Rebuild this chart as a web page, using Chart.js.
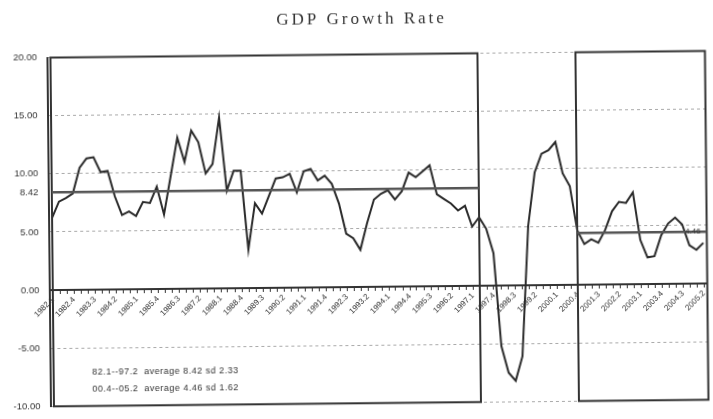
<!DOCTYPE html>
<html>
<head>
<meta charset="utf-8">
<script src="https://cdn.jsdelivr.net/npm/chart.js@4"></script>
<style>
  html, body { margin: 0; padding: 0; background: #fff; }
  #wrap { width: 713px; height: 419px; position: relative; transform: rotate(-0.58deg); }
</style>
</head>
<body>
<div id="wrap"><canvas id="gdpChart"></canvas></div>
<script>
// quarters 1982.1 .. 2005.2
const quarters = [];
for (let yr = 1982; yr <= 2005; yr++) {
  for (let q = 1; q <= 4; q++) {
    if (yr === 2005 && q > 2) break;
    quarters.push(yr + "." + q);
  }
}

const growth = [
  6.2, 7.6, 7.9, 8.3, 10.5, 11.3, 11.4, 10.1, 10.2, 8.0,
  6.4, 6.7, 6.3, 7.5, 7.4, 8.8, 6.4, 9.7, 13.0, 10.9,
  13.6, 12.6, 9.9, 10.7, 14.7, 8.4, 10.1, 10.1, 3.3, 7.3,
  6.4, 7.9, 9.4, 9.5, 9.8, 8.2, 10.0, 10.2, 9.2, 9.6,
  8.9, 7.2, 4.6, 4.2, 3.2, 5.5, 7.5, 8.0, 8.3, 7.5,
  8.2, 9.8, 9.4, 9.9, 10.4, 7.9, 7.5, 7.1, 6.5, 6.9,
  5.1, 5.9, 4.9, 2.8, -5.2, -7.5, -8.2, -6.1, 5.1, 9.7,
  11.3, 11.6, 12.3, 9.6, 8.5, 4.7, 3.5, 3.9, 3.6, 4.7,
  6.3, 7.1, 7.0, 7.9, 3.8, 2.3, 2.4, 4.2, 5.2, 5.7,
  5.1, 3.3, 2.9, 3.5
];

const yTicks = [-10, -5, 0, 5, 8.42, 10, 15, 20];

const periodStart = ["1982.1", "2000.4"];
const periodEnd = ["1997.2", "2005.2"];
const periodAvg = [8.42, 4.46];
const periodSd = [2.33, 1.62];

const titleText = "GDP Growth Rate";

const periodPlugin = {
  id: "periods",
  afterDatasetsDraw(chart) {
    const { ctx, chartArea, scales } = chart;
    const x = scales.x, y = scales.y;
    ctx.save();
    periodStart.forEach((start, i) => {
      const i0 = quarters.indexOf(start);
      const i1 = quarters.indexOf(periodEnd[i]);
      const left = x.getPixelForValue(i0);
      const right = i1 === quarters.length - 1 ? chartArea.right : x.getPixelForValue(i1);
      ctx.strokeStyle = "#333";
      ctx.lineWidth = 2;
      ctx.strokeRect(left, chartArea.top, right - left, chartArea.bottom - chartArea.top);

      const ya = y.getPixelForValue(periodAvg[i]);
      ctx.strokeStyle = "#555";
      ctx.lineWidth = 2.5;
      ctx.beginPath();
      ctx.moveTo(left, ya);
      ctx.lineTo(right, ya);
      ctx.stroke();

      // averages that are not on the axis get a label at the line end
      if (!yTicks.includes(periodAvg[i])) {
        ctx.font = '8px "Liberation Sans"';
        ctx.fillStyle = "#333";
        ctx.textAlign = "right";
        ctx.textBaseline = "middle";
        ctx.fillText(periodAvg[i].toFixed(2), right - 6, ya);
      }
    });

    // note with period stats
    ctx.font = '9px "Liberation Sans"';
    ctx.letterSpacing = "0.5px";
    ctx.fillStyle = "#333";
    ctx.textAlign = "left";
    ctx.textBaseline = "middle";
    periodStart.forEach((start, i) => {
      const txt = start.slice(2) + "--" + periodEnd[i].slice(2) +
        "  average " + periodAvg[i].toFixed(2) + " sd " + periodSd[i].toFixed(2);
      ctx.fillText(txt, chartArea.left + 42, chartArea.bottom - 33.5 + i * 16.7);
    });
    ctx.restore();
  },
  afterDraw(chart) {
    const ctx = chart.ctx;
    ctx.save();
    ctx.font = '17px "Liberation Serif"';
    ctx.letterSpacing = "3px";
    ctx.fillStyle = "#333";
    ctx.textAlign = "center";
    ctx.textBaseline = "middle";
    ctx.fillText(titleText, chart.width / 2 + 7, 20);
    ctx.restore();
  }
};

new Chart(document.getElementById("gdpChart"), {
  type: "line",
  data: {
    labels: quarters,
    datasets: [{
      label: "GDP growth",
      data: growth,
      borderColor: "#2a2a2a",
      borderWidth: 2,
      pointRadius: 0,
      tension: 0,
      fill: false
    }]
  },
  options: {
    responsive: true,
    maintainAspectRatio: false,
    animation: false,
    layout: { padding: { top: 54.5, bottom: 14.3, left: 0, right: 6.5 } },
    plugins: { legend: { display: false }, tooltip: { enabled: false }, title: { display: false } },
    scales: {
      x: {
        type: "category",
        offset: true,
        position: { y: 0 },
        grid: { drawOnChartArea: false, drawTicks: true, tickLength: 3, tickColor: "#333", tickWidth: 1 },
        border: { color: "#333", width: 2 },
        ticks: {
          autoSkip: false,
          minRotation: 45,
          maxRotation: 45,
          padding: 2,
          color: "#333",
          font: { family: "Liberation Sans", size: 8 },
          callback: (v, i) => (i % 3 === 0 ? quarters[i] : "")
        }
      },
      y: {
        min: -10,
        max: 20,
        afterBuildTicks: (scale) => { scale.ticks = yTicks.map((v) => ({ value: v })); },
        afterFit: (scale) => { scale.width = 48.5; },
        grid: {
          drawTicks: false,
          color: (c) => (c.tick && (c.tick.value === 0 || c.tick.value === 8.42) ? "rgba(0,0,0,0)" : "#aaa"),
          lineWidth: 1
        },
        border: { color: "#333", width: 2, dash: [3, 3] },
        ticks: {
          padding: 10,
          color: "#333",
          font: { family: "Liberation Sans", size: 9.5 },
          callback: (v) => Number(v).toFixed(2)
        }
      }
    }
  },
  plugins: [periodPlugin]
});
</script>
</body>
</html>
